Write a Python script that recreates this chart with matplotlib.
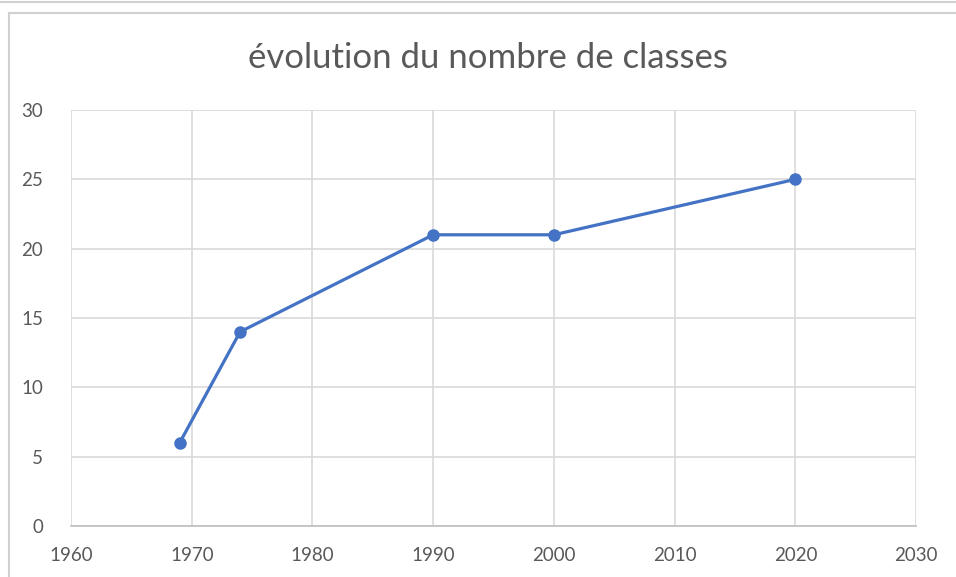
import matplotlib.pyplot as plt
from matplotlib.lines import Line2D

years = [1969, 1974, 1990, 2000, 2020]
classes = [6, 14, 21, 21, 25]
x_ticks = [1960, 1970, 1980, 1990, 2000, 2010, 2020, 2030]
y_ticks = [0, 5, 10, 15, 20, 25, 30]
title = "évolution du nombre de classes"

text_color = '#595959'
line_color = '#4472C4'
grid_color = '#D9D9D9'

plt.rcParams['font.family'] = ['Lato', 'DejaVu Sans']

fig = plt.figure(figsize=(9.56, 5.77), dpi=100)
ax = fig.add_axes([0.0743, 0.0884, 0.884, 0.721])

ax.plot(years, classes, color=line_color, linewidth=2.3, marker='o',
        markersize=8, zorder=3, clip_on=False)

ax.set_xlim(1960, 2030)
ax.set_ylim(0, 30)
ax.set_xticks(x_ticks)
ax.set_yticks(y_ticks)
ax.grid(True, color=grid_color, linewidth=1.2)
ax.set_axisbelow(True)

for side in ['top', 'right', 'left']:
    ax.spines[side].set_visible(False)
ax.spines['bottom'].set_color('#BFBFBF')
ax.spines['bottom'].set_linewidth(1.2)

ax.tick_params(length=0, labelsize=13.5, labelcolor=text_color)
ax.tick_params(axis='x', pad=15)
ax.tick_params(axis='y', pad=20)

fig.text(0.51, 0.9, title, ha='center', va='center', fontsize=25, color=text_color)

# outer chart border like the spreadsheet frame
W, H = 956, 577
fig.add_artist(Line2D([0, 1], [1 - 1.5 / H, 1 - 1.5 / H], color='#D0D0D0', linewidth=1.5))
fig.add_artist(Line2D([8.5 / W, 1], [1 - 12.5 / H, 1 - 12.5 / H], color='#D0D0D0', linewidth=1.5))
fig.add_artist(Line2D([8.5 / W, 8.5 / W], [0, 1 - 12.5 / H], color='#D0D0D0', linewidth=1.5))

fig.savefig('out.png', dpi=100)
